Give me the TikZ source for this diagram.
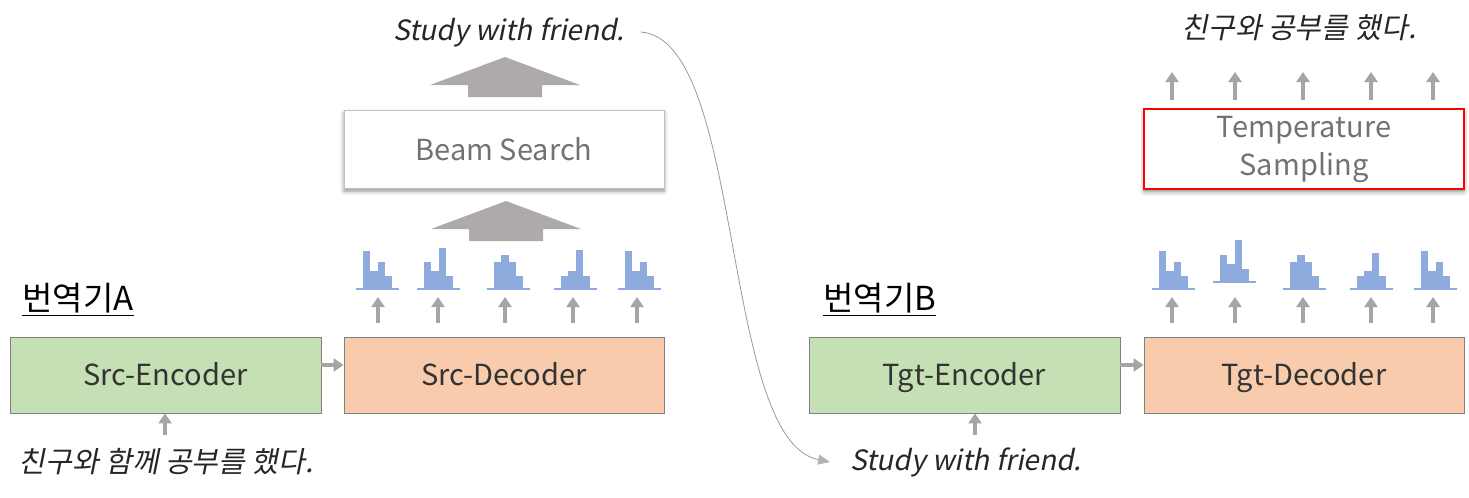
\documentclass[tikz,border=0pt]{standalone}
\usepackage{fontspec}
\setmainfont{Noto Sans CJK KR}
\newfontfamily\slantfont{Noto Sans CJK KR}[FakeSlant=0.2]
\usepackage{xcolor}
\usepackage{tikz}
\usetikzlibrary{calc, positioning, arrows.meta, shadows.blur}
\definecolor{encgreen}{HTML}{C5E0B4}
\definecolor{decorange}{HTML}{F8CBAD}
\definecolor{barblue}{HTML}{8FAADC}
\definecolor{arrowgray}{HTML}{A5A5A5}
\definecolor{bigarrowgray}{HTML}{AEAAAA}
\definecolor{textgray}{HTML}{767171}
\definecolor{boxline}{HTML}{7F7F7F}
\tikzset{
    encoder/.style={rectangle, draw=boxline, fill=encgreen, minimum width=155.5pt, minimum height=38pt, text height=12pt, text depth=2pt, font=\fontsize{14.5}{16}\selectfont, text=black!80},
    decoder/.style={rectangle, draw=boxline, fill=decorange, minimum width=160pt, minimum height=38pt, text height=12pt, text depth=2pt, font=\fontsize{14.5}{16}\selectfont, text=black!80},
    search/.style={rectangle, draw=black!25, fill=white, minimum width=160pt, minimum height=39pt, align=center, font=\fontsize{14.5}{16}\selectfont, text=textgray,
        blur shadow={shadow xshift=0pt, shadow yshift=-1.5pt, shadow blur radius=2pt, shadow opacity=45}},
    sentence/.style={inner sep=0pt, font=\slantfont\fontsize{14}{16}\selectfont, text=black!85},
    title/.style={inner sep=0pt, anchor=west, font=\fontsize{16.5}{18}\selectfont},
    uparrow/.style={draw=arrowgray, line width=2pt, -{Triangle[width=6.5pt, length=5pt]}},
    curvearrow/.style={draw=black!40, line width=0.4pt, -{Triangle[width=5pt, length=6pt, color=black!30]}},
    pics/hist/.style n args={4}{code={
        \fill[barblue] (0,0) rectangle (7.3,-#1);
        \fill[barblue] (7.3,0) rectangle (14.6,-#2);
        \fill[barblue] (14.6,0) rectangle (21.9,-#3);
        \fill[barblue] (21.9,0) rectangle (29.2,-#4);
        \draw[barblue, line width=1pt] (-7,0) -- (36,0);
    }},
    pics/bigarrow/.style={code={
        \fill[bigarrowgray] (0,0) -- (75,28) -- (37,28) -- (37,40) -- (-37,40) -- (-37,28) -- (-75,28) -- cycle;
    }}
}

\begin{document}
\begin{tikzpicture}[x=0.5pt, y=-0.5pt]
        \useasboundingbox (0,0) rectangle (1469,498);
        
        % Translator A
        \node[title] (titleA) at (22,300) {\underline{번역기A}};
        \node[encoder] (srcenc) at (165.5,375) {Src-Encoder};
        \node[decoder] (srcdec) at (504,375) {Src-Decoder};
        \node[search] (beam) at (504,149) {Beam Search};
        \node[sentence, font=\slantfont\fontsize{14.5}{16}\selectfont] (srcin) at (166,462) {친구와 함께 공부를 했다.};
        \node[sentence] (srcout) at (509,32) {Study with friend.};
        
        % Translator B
        \node[title] (titleB) at (823,300) {\underline{번역기B}};
        \node[encoder] (tgtenc) at (964.5,375) {Tgt-Encoder};
        \node[decoder] (tgtdec) at (1304,375) {Tgt-Decoder};
        \node[search, draw=red, thick] (temp) at (1304,149) {Temperature\\[3pt]Sampling};
        \node[sentence] (tgtin) at (966,462) {Study with friend.};
        \node[sentence, font=\slantfont\fontsize{14.5}{16}\selectfont] (tgtout) at (1299,28) {친구와 공부를 했다.};
        
        % Encoder to decoder
        \coordinate (srcin top) at (165,435);
        \coordinate (tgtin top) at (975,435);
        \draw[uparrow] (srcin top) -- (srcin top |- srcenc.south);
        \draw[uparrow] (tgtin top) -- (tgtin top |- tgtenc.south);
        \draw[uparrow] ([yshift=5pt]srcenc.east) -- ([yshift=5pt]srcdec.west);
        \draw[uparrow] ([yshift=5pt]tgtenc.east) -- ([yshift=5pt]tgtdec.west);
        
        % Output distributions
        \foreach \x in {378, 438, 505, 573, 637, 1172, 1235, 1303, 1371, 1433} {
            \coordinate (dec out \x) at (\x,323);
            \coordinate (dist in \x) at (\x,297);
            \draw[uparrow] (dec out \x) -- (dist in \x);
        }
        \pic at (363,289) {hist={38}{18}{27}{13}};
        \pic at (424,289) {hist={27}{18}{41}{13}};
        \pic at (494,289) {hist={27}{34}{27}{13}};
        \pic at (561,289) {hist={13}{18}{39}{13}};
        \pic at (625,289) {hist={38}{18}{27}{13}};
        \pic at (1159,289) {hist={38}{18}{27}{13}};
        \pic at (1220,282) {hist={27}{18}{42}{13}};
        \pic at (1290,289) {hist={27}{34}{27}{13}};
        \pic at (1357,289) {hist={13}{18}{36}{13}};
        \pic at (1421,289) {hist={38}{18}{27}{13}};
        
        % Decoding
        \pic at (506,201) {bigarrow};
        \pic at (505,57) {bigarrow};
        \foreach \x in {1172, 1235, 1303, 1371, 1433} {
            \coordinate (temp out \x) at (\x,100);
            \coordinate (word \x) at (\x,72);
            \draw[uparrow] (temp out \x) -- (word \x);
        }
        
        % Back translation
        \draw[curvearrow] ([xshift=8pt]srcout.east) .. controls (745,40) and (720,440) .. ([xshift=-10pt]tgtin.west);
    \end{tikzpicture}
\end{document}
